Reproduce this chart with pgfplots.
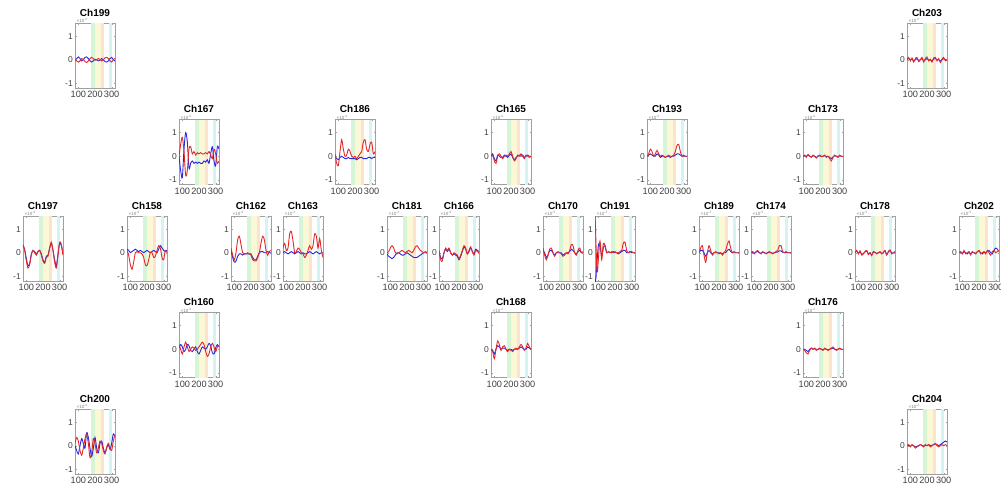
\documentclass[border=0pt]{standalone}
\usepackage{pgfplots}
\pgfplotsset{compat=1.18}
\usepackage{fontspec}
\setmainfont{Liberation Sans}
\definecolor{bandgreen}{RGB}{214,244,214}
\definecolor{bandyellow}{RGB}{250,248,214}
\definecolor{bandorange}{RGB}{252,228,204}
\definecolor{bandcyan}{RGB}{212,243,243}
\definecolor{lred}{RGB}{228,40,40}
\definecolor{lblue}{RGB}{40,40,225}
\pgfplotsset{
  chan/.style={
    width=40pt, height=65pt, scale only axis,
    anchor=south west,
    xmin=80, xmax=320, ymin=-1.2, ymax=1.55,
    xtick={100,200,300}, ytick={-1,0,1},
    scaled ticks=false,
    axis line style={gray!75, line width=0.4pt},
    tick style={gray!75, line width=0.3pt},
    major tick length=1.5pt, tick align=inside,
    ticklabel style={font=\fontsize{9.2}{9.2}\selectfont, text=black!75},
    xticklabel style={inner sep=0.5pt, yshift=-2.5pt},
    yticklabel style={font=\fontsize{8.5}{8.5}\selectfont, inner sep=2pt},
    /pgf/number format/assume math mode=true,
    clip mode=individual,
    every axis plot/.append style={line width=0.9pt, smooth, no markers},
  }
}
\newcommand{\bands}{%
  \fill[bandgreen] (178,-1.2) rectangle (202,1.55);
  \fill[bandyellow] (202,-1.2) rectangle (234,1.55);
  \fill[bandorange] (238,-1.2) rectangle (253,1.55);
  \fill[bandcyan] (282,-1.2) rectangle (302,1.55);
}
% #1 column, #2 row, #3 name, #4 red, #5 blue
\newcommand{\chan}[5]{%
  \begin{axis}[chan, at={(23pt+52pt*#1, 402.9pt-96.5pt*#2)}]
    \bands
    \addplot[lblue] coordinates {#5};
    \addplot[lred] coordinates {#4};
    \node[font=\bfseries\fontsize{10}{10}\selectfont, anchor=base, inner sep=0pt, yshift=6.8pt] at (rel axis cs:0.5,1) {#3};
    \node[font=\fontsize{4.5}{4.5}\selectfont, text=gray, anchor=south west, inner sep=0pt, xshift=1.5pt, yshift=0.3pt] at (rel axis cs:0,1) {×10\textsuperscript{-3}};
  \end{axis}%
}
\begin{document}
\begin{tikzpicture}
\chan{1}{0}{Ch199}
{(80,0.02)(90,-0.05)(100,-0.1)(110,-0.05)(120,0.05)(130,0.02)(140,-0.08)(150,-0.12)(160,-0.05)(170,0.05)(180,0.1)(190,0.05)(200,-0.02)(210,0)(220,0.05)(230,0.02)(240,-0.05)(250,0)(260,0.08)(270,0.1)(280,0.05)(290,-0.05)(300,-0.1)(310,0)(320,0.05)}
{(80,-0.02)(90,0.05)(100,0.12)(110,0.05)(120,-0.05)(130,0)(140,0.1)(150,0.12)(160,0.05)(170,-0.05)(180,-0.1)(190,-0.05)(200,0.02)(210,0)(220,-0.05)(230,-0.02)(240,0.05)(250,0)(260,-0.08)(270,-0.1)(280,-0.05)(290,0.05)(300,0.1)(310,0)(320,-0.05)}
\chan{17}{0}{Ch203}
{(80,0)(90,0.1)(100,-0.05)(110,0.08)(120,-0.1)(130,0.05)(140,0.1)(150,-0.08)(160,0)(170,0.1)(180,-0.1)(190,0.05)(200,0.12)(210,-0.05)(220,0.02)(230,-0.1)(240,0.08)(250,0.1)(260,-0.05)(270,0.05)(280,-0.12)(290,0.02)(300,0.1)(310,-0.05)(320,0)}
{(80,0)(90,0.05)(100,0)(110,0.03)(120,-0.05)(130,0)(140,0.05)(150,-0.03)(160,0)(170,0.05)(180,-0.05)(190,0)(200,0.05)(210,-0.02)(220,0)(230,-0.05)(240,0.03)(250,0.05)(260,0)(270,0)(280,-0.05)(290,0)(300,0.05)(310,0)(320,0)}
\chan{3}{1}{Ch167}
{(80,0)(90,0.5)(100,0.8)(110,0.2)(120,-0.8)(130,-0.6)(140,0.3)(150,0.4)(160,0.1)(170,0.2)(180,0.05)(190,0.15)(200,0.1)(210,0.15)(220,0.1)(230,0.1)(240,0.15)(250,0.1)(260,0.2)(270,0.05)(280,-0.1)(290,0.3)(300,0.1)(310,-0.3)(320,-0.2)}
{(80,0)(90,-0.6)(100,-0.9)(110,0.3)(120,1.0)(130,0.6)(140,-0.5)(150,-0.3)(160,-0.2)(170,-0.3)(180,-0.25)(190,-0.3)(200,-0.25)(210,-0.3)(220,-0.3)(230,-0.2)(240,-0.25)(250,-0.15)(260,-0.3)(270,0.1)(280,0.4)(290,-0.2)(300,-0.4)(310,0.4)(320,0.3)}
\chan{6}{1}{Ch186}
{(80,0.1)(90,-0.3)(100,-0.4)(110,0.2)(120,0.7)(130,0.3)(140,0)(150,0.05)(160,0.3)(170,0.2)(180,0)(190,-0.05)(200,0)(210,-0.1)(220,0)(230,0.1)(240,0.2)(250,0.6)(260,0.7)(270,0.3)(280,0.2)(290,0.5)(300,0.6)(310,0.1)(320,0.2)}
{(80,0)(90,-0.1)(100,-0.15)(110,-0.05)(120,0)(130,-0.05)(140,-0.1)(150,-0.1)(160,-0.05)(170,-0.1)(180,-0.1)(190,-0.1)(200,-0.1)(210,-0.15)(220,-0.1)(230,-0.05)(240,-0.05)(250,-0.1)(260,-0.1)(270,-0.1)(280,-0.05)(290,-0.05)(300,-0.1)(310,-0.05)(320,-0.05)}
\chan{9}{1}{Ch165}
{(80,0)(90,0.05)(100,-0.2)(110,-0.3)(120,0)(130,0.1)(140,0)(150,-0.1)(160,0)(170,0.05)(180,0)(190,0.1)(200,0.2)(210,0)(220,-0.2)(230,-0.1)(240,0.05)(250,0)(260,0.1)(270,0)(280,-0.1)(290,0.05)(300,0)(310,-0.05)(320,0)}
{(80,0)(90,0.1)(100,-0.1)(110,-0.2)(120,0.05)(130,0)(140,-0.05)(150,-0.05)(160,0.05)(170,0)(180,-0.05)(190,0.05)(200,0.1)(210,-0.05)(220,-0.15)(230,-0.05)(240,0)(250,0.05)(260,0)(270,0.05)(280,-0.05)(290,0)(300,0.05)(310,0)(320,0)}
\chan{12}{1}{Ch193}
{(80,0)(90,0.1)(100,0.3)(110,0.2)(120,0)(130,0.1)(140,0.25)(150,0.1)(160,0)(170,0.05)(180,0)(190,-0.05)(200,0)(210,0.05)(220,0)(230,0)(240,0.05)(250,0.2)(260,0.45)(270,0.5)(280,0.2)(290,0)(300,0.05)(310,0)(320,0)}
{(80,0)(90,0.05)(100,0.1)(110,0.05)(120,0)(130,0)(140,0.1)(150,0.05)(160,-0.05)(170,0)(180,0)(190,-0.05)(200,0)(210,0)(220,-0.05)(230,0)(240,0)(250,0.05)(260,0.1)(270,0.1)(280,0.05)(290,0)(300,0)(310,0)(320,0)}
\chan{15}{1}{Ch173}
{(80,0)(90,0.05)(100,-0.05)(110,0.08)(120,0)(130,-0.05)(140,0.05)(150,0)(160,-0.08)(170,0.02)(180,0.05)(190,-0.02)(200,0)(210,0.05)(220,-0.05)(230,0)(240,-0.1)(250,-0.2)(260,-0.05)(270,0.05)(280,0)(290,-0.05)(300,0.05)(310,0)(320,-0.02)}
{(80,0)(90,0.02)(100,0)(110,0.05)(120,0)(130,-0.02)(140,0.02)(150,0)(160,-0.05)(170,0)(180,0.02)(190,0)(200,0)(210,0.02)(220,-0.02)(230,0)(240,-0.05)(250,-0.1)(260,-0.03)(270,0.02)(280,0)(290,-0.02)(300,0.02)(310,0)(320,0)}
\chan{0}{2}{Ch197}
{(80,0.35)(90,0.1)(100,-0.35)(110,-0.65)(120,-0.5)(130,-0.1)(140,0.1)(150,0)(160,-0.1)(170,0.05)(180,0.1)(190,-0.1)(200,-0.35)(210,-0.45)(220,-0.2)(230,-0.15)(240,0.2)(250,0.45)(260,0.1)(270,-0.4)(280,-0.65)(290,-0.1)(300,0.45)(310,0.35)(320,-0.1)}
{(80,0.3)(90,0.15)(100,-0.25)(110,-0.55)(120,-0.45)(130,-0.05)(140,0.1)(150,0.05)(160,-0.05)(170,0.05)(180,0.1)(190,-0.05)(200,-0.3)(210,-0.4)(220,-0.15)(230,-0.1)(240,0.2)(250,0.4)(260,0.1)(270,-0.3)(280,-0.55)(290,-0.05)(300,0.4)(310,0.3)(320,-0.05)}
\chan{2}{2}{Ch158}
{(80,0.1)(90,-0.1)(100,-0.5)(110,-0.7)(120,-0.4)(130,0)(140,0.05)(150,0)(160,0)(170,-0.05)(180,-0.2)(190,-0.5)(200,-0.55)(210,-0.3)(220,0)(230,0)(240,-0.2)(250,-0.15)(260,0.1)(270,0.3)(280,0.2)(290,-0.2)(300,-0.3)(310,0.1)(320,0)}
{(80,0.15)(90,0.1)(100,0)(110,0.05)(120,0.1)(130,0.15)(140,0.1)(150,0.05)(160,0.1)(170,0.05)(180,0)(190,0.05)(200,0.1)(210,0.05)(220,0)(230,0.05)(240,0.1)(250,0.05)(260,0)(270,0.15)(280,0.3)(290,0.2)(300,0.1)(310,0.05)(320,0.1)}
\chan{4}{2}{Ch162}
{(80,0.2)(90,-0.1)(100,-0.3)(110,0)(120,0.55)(130,0.7)(140,0.35)(150,0)(160,-0.05)(170,-0.05)(180,0)(190,-0.05)(200,-0.1)(210,-0.3)(220,-0.35)(230,-0.35)(240,-0.2)(250,0)(260,0.4)(270,0.7)(280,0.55)(290,0.1)(300,-0.1)(310,0.05)(320,0.1)}
{(80,0.1)(90,-0.2)(100,-0.4)(110,-0.35)(120,-0.15)(130,-0.05)(140,-0.05)(150,-0.1)(160,-0.05)(170,-0.05)(180,-0.05)(190,-0.05)(200,-0.05)(210,-0.2)(220,-0.3)(230,-0.3)(240,-0.15)(250,0)(260,0.05)(270,0.05)(280,0)(290,0)(300,0.05)(310,0)(320,0)}
\chan{5}{2}{Ch163}
{(80,0.2)(90,0.4)(100,0.1)(110,0.2)(120,0.8)(130,0.9)(140,0.5)(150,0)(160,0.05)(170,0.2)(180,0.15)(190,0)(200,-0.05)(210,-0.2)(220,-0.1)(230,0.1)(240,0.3)(250,0.15)(260,0.3)(270,0.8)(280,0.7)(290,0.2)(300,0.6)(310,0.1)(320,-0.2)}
{(80,0)(90,0.05)(100,0)(110,-0.05)(120,0)(130,0.05)(140,0)(150,-0.05)(160,0)(170,0.05)(180,0)(190,-0.05)(200,0)(210,-0.05)(220,-0.05)(230,0)(240,0.05)(250,0)(260,-0.05)(270,0)(280,0.05)(290,0)(300,-0.05)(310,0)(320,0)}
\chan{7}{2}{Ch181}
{(80,0)(90,0.05)(100,0.2)(110,0.3)(120,0.2)(130,0)(140,-0.05)(150,0)(160,0.05)(170,0.1)(180,0.05)(190,0)(200,0.05)(210,0.1)(220,0.05)(230,0)(240,0.1)(250,0.25)(260,0.3)(270,0.2)(280,0.1)(290,0.05)(300,0)(310,0.05)(320,0)}
{(80,-0.05)(90,-0.15)(100,-0.2)(110,-0.25)(120,-0.2)(130,-0.1)(140,0)(150,0)(160,-0.05)(170,-0.1)(180,-0.1)(190,-0.05)(200,0)(210,-0.05)(220,-0.1)(230,-0.15)(240,-0.2)(250,-0.2)(260,-0.2)(270,-0.15)(280,-0.1)(290,-0.05)(300,0)(310,0)(320,0)}
\chan{8}{2}{Ch166}
{(80,0.1)(90,-0.3)(100,-0.35)(110,0)(120,0.2)(130,0.1)(140,0.2)(150,0)(160,-0.1)(170,0)(180,-0.05)(190,-0.1)(200,-0.25)(210,-0.1)(220,0.1)(230,0.3)(240,0.2)(250,-0.05)(260,0.1)(270,0.25)(280,0.05)(290,-0.1)(300,0.1)(310,0.05)(320,0)}
{(80,0.05)(90,-0.2)(100,-0.25)(110,0)(120,0.15)(130,0.05)(140,0.15)(150,0)(160,-0.1)(170,-0.05)(180,-0.1)(190,-0.15)(200,-0.3)(210,-0.15)(220,0.05)(230,0.25)(240,0.15)(250,-0.05)(260,0.05)(270,0.2)(280,0.05)(290,-0.05)(300,0.15)(310,0.1)(320,0.05)}
\chan{10}{2}{Ch170}
{(80,0.2)(90,-0.1)(100,-0.3)(110,-0.1)(120,0.15)(130,0.2)(140,0)(150,-0.15)(160,0)(170,0.05)(180,0)(190,-0.05)(200,-0.15)(210,-0.1)(220,0)(230,-0.05)(240,0.1)(250,0.35)(260,0.3)(270,0)(280,-0.1)(290,0.1)(300,0.2)(310,0)(320,0.05)}
{(80,0.1)(90,0)(100,-0.2)(110,-0.1)(120,0.1)(130,0.1)(140,0)(150,-0.1)(160,0)(170,0)(180,0)(190,0)(200,-0.1)(210,-0.05)(220,0)(230,0)(240,0.05)(250,0.15)(260,0.1)(270,0)(280,-0.05)(290,0.05)(300,0.1)(310,0)(320,0)}
\chan{11}{2}{Ch191}
{(80,1.7)(85,0.6)(90,-0.5)(95,-0.8)(100,-0.3)(110,0.5)(120,-0.3)(130,0.4)(140,0.3)(150,0)(160,0.05)(170,0)(180,0.05)(190,0)(200,0.05)(210,0)(220,0)(230,0.05)(240,0.1)(250,0.4)(260,0.45)(270,0.1)(280,0)(290,0.05)(300,0.05)(310,0)(320,0)}
{(80,-1.3)(85,-1.1)(90,-0.6)(100,0.3)(110,0.35)(120,-0.15)(130,0.2)(140,0.3)(150,0)(160,0.05)(170,0)(180,0)(190,0.05)(200,0)(210,0)(220,-0.05)(230,0)(240,0.05)(250,0.1)(260,0.1)(270,0)(280,0)(290,0.05)(300,0)(310,0)(320,0)}
\chan{13}{2}{Ch189}
{(80,0)(90,0.2)(100,0.3)(110,-0.1)(120,-0.4)(130,0)(140,0.3)(150,0.1)(160,-0.1)(170,0)(180,0.05)(190,0)(200,-0.05)(210,0)(220,-0.1)(230,0)(240,0.1)(250,0.35)(260,0.5)(270,0.2)(280,0)(290,0.05)(300,0)(310,0)(320,0)}
{(80,0)(90,0.1)(100,0.1)(110,0)(120,-0.15)(130,0)(140,0.1)(150,0)(160,-0.05)(170,0)(180,0)(190,0)(200,0)(210,0)(220,-0.05)(230,0)(240,0)(250,0.1)(260,0.15)(270,0.05)(280,0)(290,0)(300,0)(310,0)(320,0)}
\chan{14}{2}{Ch174}
{(80,0)(90,0.05)(100,-0.05)(110,0.05)(120,0.1)(130,0)(140,-0.05)(150,0.05)(160,0)(170,-0.05)(180,0)(190,0.05)(200,0)(210,-0.05)(220,0)(230,0.05)(240,0.1)(250,0.3)(260,0.3)(270,0.05)(280,0)(290,0.05)(300,0)(310,0)(320,0)}
{(80,0)(90,0.02)(100,-0.02)(110,0.03)(120,0.05)(130,0)(140,-0.02)(150,0.02)(160,0)(170,-0.02)(180,0)(190,0.02)(200,0)(210,-0.02)(220,0)(230,0.02)(240,0.03)(250,0.08)(260,0.08)(270,0.02)(280,0)(290,0.02)(300,0)(310,0)(320,0)}
\chan{16}{2}{Ch178}
{(80,0)(90,0.1)(100,-0.05)(110,0.08)(120,-0.1)(130,-0.05)(140,0.05)(150,0.1)(160,-0.08)(170,0)(180,-0.12)(190,0.05)(200,0.02)(210,-0.05)(220,0)(230,0.05)(240,-0.05)(250,0)(260,0.1)(270,-0.1)(280,0.05)(290,0.12)(300,-0.05)(310,0)(320,0.05)}
{(80,0)(90,0.08)(100,-0.03)(110,0.05)(120,-0.08)(130,-0.03)(140,0.03)(150,0.08)(160,-0.05)(170,0)(180,-0.1)(190,0.03)(200,0.02)(210,-0.03)(220,0)(230,0.03)(240,-0.03)(250,0)(260,0.08)(270,-0.08)(280,0.03)(290,0.1)(300,-0.03)(310,0)(320,0.03)}
\chan{18}{2}{Ch202}
{(80,0)(90,0.05)(100,-0.05)(110,0.1)(120,-0.05)(130,0)(140,0.05)(150,-0.1)(160,0.05)(170,0)(180,-0.05)(190,0.05)(200,0.1)(210,-0.05)(220,0)(230,0.05)(240,-0.05)(250,0.1)(260,0)(270,-0.1)(280,0.05)(290,0.1)(300,0)(310,0.05)(320,0.1)}
{(80,0)(90,0.03)(100,-0.03)(110,0.05)(120,0)(130,-0.05)(140,0.03)(150,-0.05)(160,0.03)(170,0)(180,-0.03)(190,0.05)(200,0.08)(210,0)(220,-0.05)(230,0.03)(240,0)(250,0.05)(260,0.1)(270,0)(280,-0.05)(290,0.1)(300,0.2)(310,0.15)(320,0.05)}
\chan{3}{3}{Ch160}
{(80,0.2)(90,0)(100,-0.2)(110,0.1)(120,0.3)(130,0.1)(140,-0.1)(150,0)(160,0.1)(170,0.05)(180,-0.05)(190,0)(200,0.1)(210,0.2)(220,0.3)(230,0.2)(240,-0.1)(250,-0.3)(260,-0.2)(270,0.1)(280,0.25)(290,0.1)(300,-0.1)(310,0.1)(320,0.15)}
{(80,0.05)(90,0.2)(100,0.1)(110,-0.1)(120,0)(130,0.2)(140,0.15)(150,-0.05)(160,-0.1)(170,0)(180,0.1)(190,-0.1)(200,-0.2)(210,-0.05)(220,0.1)(230,0.05)(240,0)(250,0.1)(260,0.25)(270,0.15)(280,-0.15)(290,-0.2)(300,0.05)(310,0.2)(320,0.1)}
\chan{9}{3}{Ch168}
{(80,0)(90,-0.1)(100,-0.4)(110,0)(120,0.35)(130,0.2)(140,-0.05)(150,0.1)(160,0.15)(170,0)(180,-0.1)(190,0)(200,-0.05)(210,-0.1)(220,0)(230,0.05)(240,0)(250,0.1)(260,0.2)(270,0.1)(280,-0.05)(290,0.05)(300,0.25)(310,0.1)(320,0)}
{(80,0)(90,-0.05)(100,-0.2)(110,0)(120,0.15)(130,0.1)(140,0)(150,0.05)(160,0.05)(170,0)(180,-0.05)(190,0)(200,0)(210,-0.05)(220,0)(230,0)(240,0)(250,0.05)(260,0.1)(270,0.05)(280,0)(290,0)(300,0.1)(310,0.05)(320,0)}
\chan{15}{3}{Ch176}
{(80,0)(90,-0.05)(100,-0.15)(110,-0.2)(120,-0.05)(130,0.05)(140,0)(150,0.05)(160,-0.05)(170,0)(180,0.05)(190,0)(200,-0.05)(210,0.05)(220,0)(230,-0.05)(240,0)(250,0.05)(260,0.1)(270,0)(280,-0.05)(290,0)(300,0.05)(310,0)(320,0)}
{(80,0)(90,0)(100,-0.05)(110,-0.1)(120,0)(130,0.05)(140,0)(150,0.02)(160,0)(170,0)(180,0.02)(190,0)(200,-0.02)(210,0.02)(220,0)(230,-0.02)(240,0)(250,0.02)(260,0.05)(270,0)(280,-0.02)(290,0)(300,0.02)(310,0)(320,0)}
\chan{1}{4}{Ch200}
{(80,0.1)(90,0.35)(100,0.2)(110,-0.2)(120,-0.4)(130,-0.1)(140,0.3)(150,0.5)(160,0.1)(170,-0.5)(180,-0.3)(190,0.3)(200,0.1)(210,-0.3)(220,-0.1)(230,0.2)(240,0.1)(250,-0.2)(260,-0.35)(270,-0.05)(280,0.1)(290,-0.1)(300,-0.2)(310,0.2)(320,0.45)}
{(80,0)(90,-0.2)(100,-0.35)(110,0)(120,0.3)(130,0.1)(140,-0.1)(150,0.55)(160,0.35)(170,-0.1)(180,-0.45)(190,-0.1)(200,0.35)(210,-0.1)(220,-0.3)(230,0.1)(240,0.2)(250,-0.1)(260,-0.3)(270,-0.1)(280,0.05)(290,-0.15)(300,0.1)(310,0.5)(320,0.4)}
\chan{17}{4}{Ch204}
{(80,0)(90,0.05)(100,-0.05)(110,0.05)(120,0)(130,-0.1)(140,-0.05)(150,0)(160,0.05)(170,0)(180,-0.05)(190,0.05)(200,0)(210,0.05)(220,-0.05)(230,0)(240,0.05)(250,0.1)(260,0)(270,-0.05)(280,0)(290,0.05)(300,0)(310,0.05)(320,0)}
{(80,0)(90,0.02)(100,-0.02)(110,0.03)(120,0)(130,-0.05)(140,-0.02)(150,0)(160,0.05)(170,0.02)(180,-0.02)(190,0.03)(200,0)(210,0.05)(220,0)(230,0.02)(240,0.05)(250,0.08)(260,0.05)(270,0)(280,0.05)(290,0.1)(300,0.15)(310,0.2)(320,0.15)}
\pgfresetboundingbox
\path (0pt,0pt) rectangle (1001pt,491pt);
\end{tikzpicture}
\end{document}
